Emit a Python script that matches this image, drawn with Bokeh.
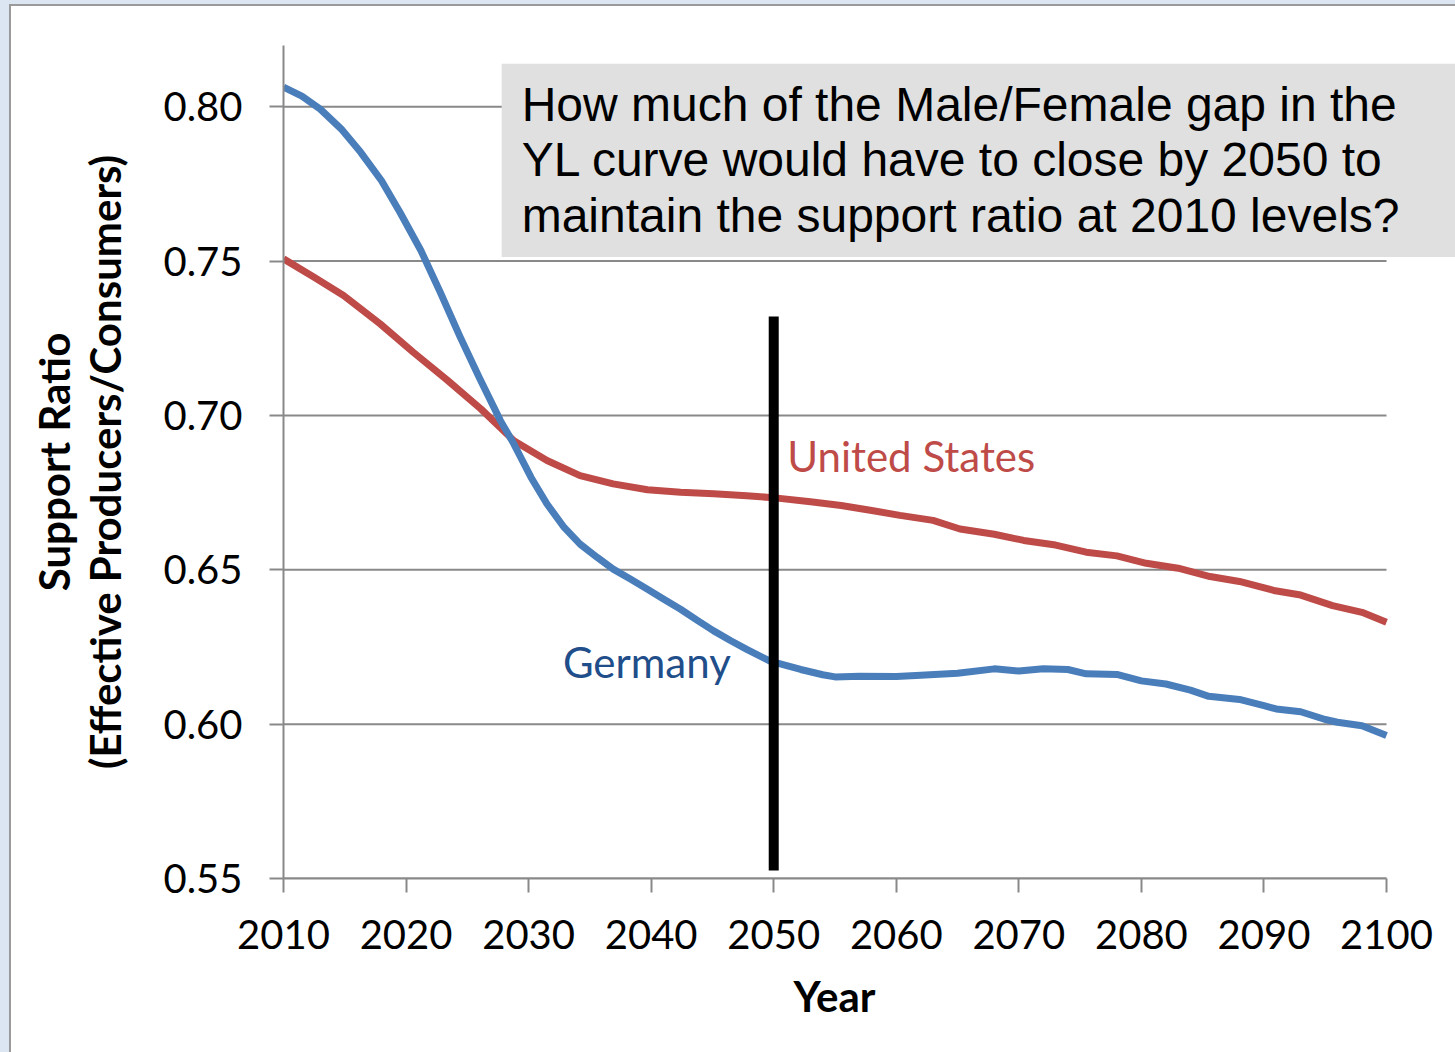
from bokeh.plotting import figure
from bokeh.models import Label, FixedTicker, NumeralTickFormatter
from bokeh.layouts import column
from bokeh.embed import file_html
from bokeh.resources import INLINE

# ---- data ----
years_de = [2010, 2011.5, 2013, 2014.7, 2016.3, 2018, 2019.5, 2021.2, 2022.8, 2024.4,
            2026, 2027.7, 2028.8, 2030.2, 2031.5, 2032.9, 2034.2, 2035.6, 2036.9,
            2038.3, 2039.7, 2041, 2042.4, 2043.8, 2045.1, 2046.5, 2047.8, 2049.7,
            2052.2, 2054, 2055, 2057, 2060, 2062, 2065, 2068, 2070, 2072, 2074,
            2075.5, 2078, 2080, 2082, 2084, 2085.5, 2088, 2090, 2091, 2093, 2095,
            2096, 2098, 2100]
germany = [0.8063, 0.8034, 0.7992, 0.7928, 0.7852, 0.7760, 0.7658, 0.7535, 0.7398,
           0.7255, 0.7120, 0.6983, 0.6907, 0.6799, 0.6713, 0.6637, 0.6583, 0.6540,
           0.6502, 0.6470, 0.6437, 0.6405, 0.6372, 0.6335, 0.6302, 0.6270, 0.6242,
           0.6204, 0.6177, 0.6160, 0.6153, 0.6155, 0.6154, 0.6158, 0.6165, 0.6179,
           0.6172, 0.6179, 0.6177, 0.6163, 0.6161, 0.6140, 0.6130, 0.6110, 0.6090,
           0.6080, 0.6060, 0.6049, 0.6040, 0.6015, 0.6006, 0.5995, 0.5963]

years_us = [2010, 2012.5, 2014.9, 2017.9, 2020.6, 2023.4, 2026.1, 2028.8, 2031.5,
            2034.2, 2036.9, 2039.7, 2042.4, 2045.1, 2047.8, 2050.3, 2053, 2055.5,
            2058, 2060.3, 2063, 2065.2, 2068, 2070.4, 2073, 2075.5, 2078, 2080.4,
            2083, 2085.6, 2088, 2090.8, 2093, 2095.6, 2098, 2100]
united_states = [0.7507, 0.7447, 0.7388, 0.7296, 0.7204, 0.7113, 0.7021, 0.6918,
                 0.6854, 0.6805, 0.6778, 0.6759, 0.6751, 0.6746, 0.6740, 0.6732,
                 0.6720, 0.6708, 0.6692, 0.6676, 0.6660, 0.6632, 0.6615, 0.6595,
                 0.6580, 0.6557, 0.6545, 0.6521, 0.6505, 0.6478, 0.6462, 0.6433,
                 0.6418, 0.6384, 0.6362, 0.6330]

x_ticks = [2010, 2020, 2030, 2040, 2050, 2060, 2070, 2080, 2090, 2100]
y_ticks = [0.55, 0.60, 0.65, 0.70, 0.75, 0.80]

marker_year = [2050]
marker_low = [0.5526]
marker_high = [0.732]

question = ("How much of the Male/Female gap in the\n"
            "YL curve would have to close by 2050 to\n"
            "maintain the support ratio at 2010 levels?")

GRID = "#898989"
BLUE = "#4A7EBB"
RED = "#BE4B48"
FONT = "Lato"

# frame runs to the right page edge so the question box can reach it;
# the axis and grid lines stop at the last tick (2100)
p = figure(width=1444, height=1046, x_range=(2010, 2105.63), y_range=(0.55, 0.8198),
           output_backend="svg", toolbar_location=None, title_location="below",
           min_border_left=272, min_border_right=0, min_border_top=39,
           min_border_bottom=174)
p.outline_line_color = None
p.background_fill_color = "white"
p.border_fill_color = "white"

# axes
p.xaxis.ticker = FixedTicker(ticks=x_ticks)
p.xaxis.bounds = (x_ticks[0], x_ticks[-1])
p.yaxis.ticker = FixedTicker(ticks=y_ticks)
p.yaxis.formatter = NumeralTickFormatter(format="0.00")
for ax in (p.xaxis[0], p.yaxis[0]):
    ax.axis_line_color = GRID
    ax.axis_line_width = 2
    ax.major_tick_line_color = GRID
    ax.major_tick_line_width = 2
    ax.major_tick_in = 0
    ax.major_tick_out = 14
    ax.minor_tick_line_color = None
    ax.major_label_text_font = FONT
    ax.major_label_text_font_size = "40px"
    ax.major_label_text_color = "black"
    ax.axis_label_text_font = FONT
    ax.axis_label_text_font_style = "bold"
    ax.axis_label_text_font_size = "42px"
    ax.axis_label_text_color = "black"
p.xaxis.major_label_standoff = 27
p.yaxis.major_label_standoff = 27
p.yaxis.axis_label = "Support Ratio\n(Effective Producers/Consumers)"
p.yaxis.axis_label_text_line_height = 1.03
p.yaxis.axis_label_standoff = 30

# x-axis title: centred under the 2010-2100 span (the frame is wider)
p.title.text = "Year"
p.title.text_font = FONT
p.title.text_font_style = "bold"
p.title.text_font_size = "42px"
p.title.text_color = "black"
p.title.align = "left"
p.title.offset = 510
p.title.standoff = 34

p.xgrid.grid_line_color = None
p.ygrid.grid_line_color = None

# horizontal grid lines between the first and last year tick
p.segment(x0=[x_ticks[0]] * len(y_ticks), x1=[x_ticks[-1]] * len(y_ticks),
          y0=y_ticks, y1=y_ticks, line_color=GRID, line_width=2)

# data lines
p.line(years_us, united_states, line_color=RED, line_width=7, line_join="round")
p.line(years_de, germany, line_color=BLUE, line_width=7, line_join="round")

# 2050 marker
p.segment(x0=marker_year, y0=marker_low, x1=marker_year, y1=marker_high,
          line_color="black", line_width=10)

# series labels
p.add_layout(Label(x=2051.1, y=0.6867, text="United States", text_font=FONT,
                   text_font_size="42px", text_color=RED, text_baseline="middle",
                   text_align="left"))
p.add_layout(Label(x=2032.8, y=0.6200, text="Germany", text_font=FONT,
                   text_font_size="42px", text_color="#1F4E8A", text_baseline="middle",
                   text_align="left"))

# question box
p.add_layout(Label(x=2027.8, y=0.8139, text=question, text_font="Liberation Sans",
                   text_font_size="48px", text_color="black", text_align="left",
                   text_baseline="top", text_line_height=1.05,
                   background_fill_color="#E0E0E0",
                   padding=dict(left=20, right=80, top=14, bottom=15)))

layout = column(
    column(p, styles={"border-left": "2px solid #9a9a9a",
                      "border-top": "2px solid #9a9a9a",
                      "background-color": "white"}),
    styles={"background-color": "#DCE6F2", "padding-left": "9px", "padding-top": "4px"})

open("out.html", "w").write(file_html(layout, INLINE))
